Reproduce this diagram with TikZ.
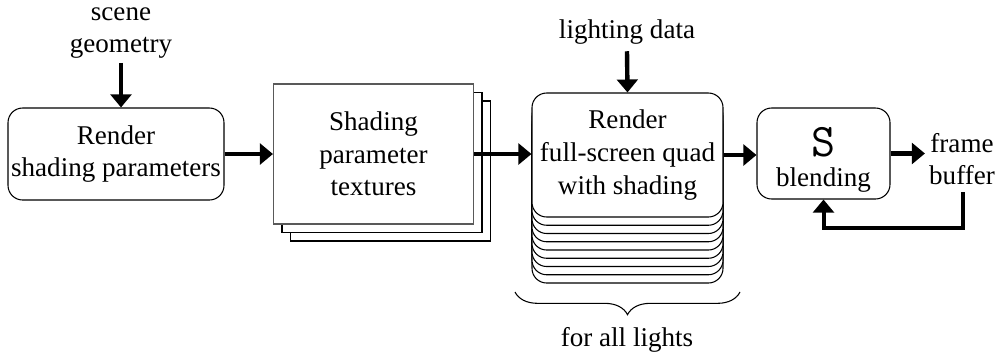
\documentclass[tikz,border=0pt]{standalone}
\usepackage{fontspec}
\setmainfont{Liberation Serif}
\usetikzlibrary{arrows.meta,decorations.pathreplacing}

\begin{document}
\begin{tikzpicture}[x=0.75pt,y=-0.75pt,
  every node/.style={font=\fontsize{20.3pt}{24.5pt}\selectfont, align=center},
  procbox/.style={draw, line width=0.8pt, rounded corners=11pt, fill=white, inner sep=0pt},
  sheet/.style={draw, line width=0.8pt, fill=white, minimum width=150pt, minimum height=105pt, inner sep=0pt},
  quadbox/.style={procbox, minimum width=143.25pt, minimum height=93pt},
  flow/.style={line width=3.3pt, -{Triangle[length=9.75pt,width=15.5pt]}},
  txt/.style={inner sep=3pt}
]
\useasboundingbox (0,0) rectangle (998,354);

% first pass: geometry into parameter buffers
\node[txt] (scene) at (121,33) {scene\\geometry};
\node[procbox, minimum width=162pt, minimum height=69pt] (render) at (116,154) {Render\\shading parameters};

% stack of parameter textures
\node[sheet] (tex3) at (390.5,171) {};
\node[sheet] (tex2) at (382,162.5) {};
\node[sheet, draw=black!65] (tex1) at (373.5,154) {Shading\\parameter\\textures};

% one full-screen pass per light
\foreach \i in {8,7,...,1}
  \node[quadbox] (q\i) at (627.5,155+8.25*\i) {};
\node[quadbox] (quad) at (627.5,155) {Render\\full-screen quad\\with shading};
\node[txt, inner sep=5pt] (light) at (627,32) {lighting data};

% brace over the light passes
\coordinate (brL) at (515,292);
\coordinate (brR) at (740,292);
\draw[line width=0.8pt, decorate, decoration={brace, mirror, amplitude=17pt}] (brL) -- (brR);
\node[txt] (all) at (627,340) {for all lights};

% blending stage and frame buffer
\node[procbox, minimum width=99.75pt, minimum height=68.25pt] (blend) at (823.5,153.5) {};
\node[inner sep=0pt] (sym) at (823.5,142.5) {\ttfamily\fontsize{35pt}{35pt}\selectfont S};
\node[inner sep=0pt] (blab) at (823.5,180) {blending};
\node[txt] (fb) at (962,159) {frame\\buffer};
\coordinate (fbout) at (963,192);
\coordinate (fbbend) at (963,228);

% data flow
\draw[flow] (scene.south) -- (scene.south |- render.north);
\draw[flow] (render.east) -- (render.east -| tex1.west);
\draw[flow] (tex1.east) -- (tex1.east -| quad.west);
\draw[flow] (light.south) -- (quad.north);
\draw[flow] (quad.east) -- (quad.east -| blend.west);
\draw[flow] (blend.east) -- (blend.east -| fb.west);
\draw[flow, line width=3pt] (fbout) -- (fbbend) -| (blend.south);
\end{tikzpicture}
\end{document}
